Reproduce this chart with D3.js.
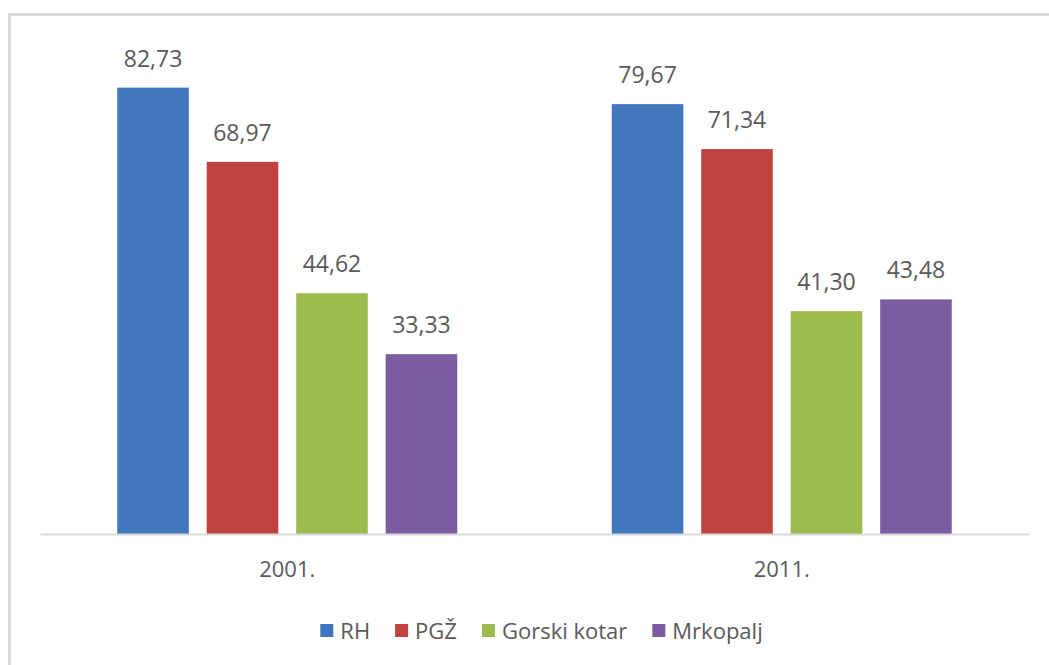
<!DOCTYPE html>
<html>
<head>
<meta charset="utf-8">
<script src="https://cdn.jsdelivr.net/npm/d3@7"></script>
<style>
html,body{margin:0;padding:0;background:#fff;}
svg{display:block;}
text{font-family:"Open Sans",sans-serif;fill:#595959;}
</style>
</head>
<body>
<svg id="chart" width="1049" height="665"></svg>
<script>
const categories = ["2001.", "2011."];
const seriesNames = ["RH", "PGŽ", "Gorski kotar", "Mrkopalj"];
const valuesRH = [82.73, 79.67];
const valuesPGZ = [68.97, 71.34];
const valuesGorski = [44.62, 41.30];
const valuesMrkopalj = [33.33, 43.48];
const colors = ["#4178bd", "#c0433f", "#9bbb4f", "#7b5ca0"];

const seriesValues = [valuesRH, valuesPGZ, valuesGorski, valuesMrkopalj];

const svg = d3.select("#chart");
const W = 1049, H = 665;

// chart frame (cut off at right and bottom like the reference)
svg.append("rect").attr("x", 9.5).attr("y", 14.5).attr("width", W + 20).attr("height", H + 20)
  .attr("fill", "#fff").attr("stroke", "#d9d9d9").attr("stroke-width", 3);

const plot = {left: 40, right: 1029, top: 48.4, bottom: 534};

const x0 = d3.scaleBand().domain(categories).range([plot.left, plot.right]).paddingInner(0).paddingOuter(0);
const y = d3.scaleLinear().domain([0, 90]).range([plot.bottom, plot.top]);
const halfGroup = 170;

const fmt = v => v.toFixed(2).replace(".", ",");

categories.forEach((cat, ci) => {
  const cx = x0(cat) + x0.bandwidth() / 2;
  const x1 = d3.scaleBand().domain(seriesNames).range([cx - halfGroup, cx + halfGroup]).paddingInner(0.2).paddingOuter(0);
  const g = svg.append("g");
  seriesNames.forEach((s, si) => {
    const v = seriesValues[si][ci];
    g.append("rect")
      .attr("x", x1(s)).attr("y", y(v))
      .attr("width", x1.bandwidth()).attr("height", y(0) - y(v))
      .attr("fill", colors[si]);
    g.append("text")
      .attr("x", x1(s) + x1.bandwidth() / 2).attr("y", y(v) - 21)
      .attr("text-anchor", "middle").attr("font-size", 23)
      .text(fmt(v));
  });
});

// baseline axis
const xAxis = d3.axisBottom(x0).tickSize(0).tickPadding(0);
const axisG = svg.append("g").attr("transform", `translate(0,${plot.bottom})`).call(xAxis);
axisG.select(".domain").attr("stroke", "#d9d9d9").attr("stroke-width", 2);
axisG.selectAll(".tick text").attr("dy", 0).attr("y", 43).attr("font-size", 22)
  .attr("font-family", "Open Sans").attr("fill", "#595959");

// legend
const leg = svg.append("g");
let cursor = 0;
const sq = 13, gapT = 7, gapItem = 25;
seriesNames.forEach((s, i) => {
  const ig = leg.append("g");
  ig.append("rect").attr("x", cursor).attr("y", 624).attr("width", sq).attr("height", sq).attr("fill", colors[i]);
  const t = ig.append("text").attr("x", cursor + sq + gapT).attr("y", 639).attr("font-size", 22).text(s);
  const w = t.node().getComputedTextLength();
  cursor += sq + gapT + w + gapItem;
});
const totalW = cursor - gapItem;
leg.attr("transform", `translate(${541.5 - totalW / 2},0)`);
</script>
</body>
</html>
